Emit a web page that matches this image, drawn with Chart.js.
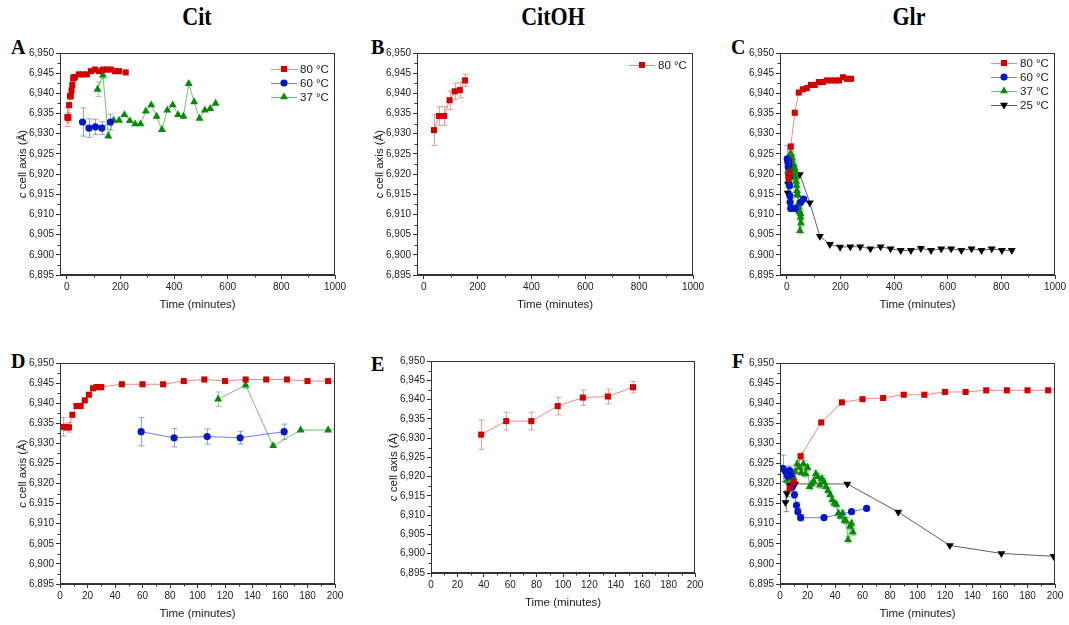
<!DOCTYPE html>
<html>
<head>
<meta charset="utf-8">
<script src="https://cdn.jsdelivr.net/npm/chart.js@4.4.1/dist/chart.umd.min.js"></script>
<style>
  body { margin: 0; background: #fff; }
  #page { position: relative; width: 1069px; height: 625px; overflow: hidden; background: #fff; }
  .head { position: absolute; top: 4px; width: 120px; margin-left: -60px; text-align: center;
          font: bold 25px "Liberation Serif", "DejaVu Serif", serif; line-height: 25px; transform: scaleX(0.88); }
  .let { position: absolute; font: bold 20px "Liberation Serif", "DejaVu Serif", serif; line-height: 20px; }
  canvas { position: absolute; }
</style>
</head>
<body>
<div id="page">
  <div class="head" style="left:197px">Cit</div>
  <div class="head" style="left:553px">CitOH</div>
  <div class="head" style="left:909px">Glr</div>
  <div class="let" style="left:11px;top:37px">A</div>
  <div class="let" style="left:371px;top:37px">B</div>
  <div class="let" style="left:731px;top:37px">C</div>
  <div class="let" style="left:11px;top:351px">D</div>
  <div class="let" style="left:371px;top:354px">E</div>
  <div class="let" style="left:732px;top:351px">F</div>
</div>
<script>
// ---- data (time in minutes, c axis in Å, error = ± half bar) ----
// Cit
const citT80 = [2.5, 4.5, 6.5, 9, 12, 13.5, 15, 18, 21, 24, 26.5, 28.5, 30, 45, 60, 75, 90, 105, 120, 135, 150, 165, 180, 195, 220];
const citC80 = [6.9341, 6.9340, 6.9340, 6.9371, 6.9393, 6.9393, 6.9393, 6.9407, 6.9421, 6.9437, 6.9440, 6.9440, 6.9440,
                6.9447, 6.9447, 6.9447, 6.9455, 6.9459, 6.9455, 6.9459, 6.9459, 6.9459, 6.9455, 6.9455, 6.9452];
const citE80 = [0.0023, 0.0008, 0.0012, 0.0004, 0.0004, 0.0003, 0.0003, 0.0003, 0.0003, 0.0003, 0.0003, 0.0003, 0.0003,
                0.0003, 0.0003, 0.0003, 0.0003, 0.0003, 0.0003, 0.0003, 0.0003, 0.0003, 0.0003, 0.0003, 0.0003];
const citT60 = [59, 83, 107, 131, 163];
const citC60 = [6.9329, 6.9314, 6.9317, 6.9314, 6.9329];
const citE60 = [0.0035, 0.0023, 0.0019, 0.0016, 0.0019];
const citT37 = [115, 135, 155, 175, 195, 215, 235, 255, 275, 295, 315, 335, 355, 375, 395, 415, 435, 455, 475, 495, 515, 535, 555];
const citC37 = [6.9410, 6.9445, 6.9294, 6.9333, 6.9333, 6.9347, 6.9332, 6.9324, 6.9324, 6.9356, 6.9371, 6.9343,
                6.9310, 6.9358, 6.9371, 6.9347, 6.9343, 6.9424, 6.9379, 6.9338, 6.9358, 6.9362, 6.9375];
const citE37 = [0.0018, 0.0008, 0.0005, 0.0005, 0.0005, 0.0005, 0.0005, 0.0005, 0.0005, 0.0005, 0.0005, 0.0005,
                0.0005, 0.0005, 0.0005, 0.0005, 0.0005, 0.0005, 0.0005, 0.0005, 0.0005, 0.0005, 0.0005];
// CitOH
const ohT80 = [38, 57, 76, 96, 115, 134, 153];
const ohC80 = [6.9309, 6.9344, 6.9344, 6.9383, 6.9405, 6.9408, 6.9432];
const ohE80 = [0.0038, 0.0023, 0.0023, 0.0023, 0.0020, 0.0019, 0.0015];
// Glr
const glrT80 = [7, 10, 15, 30, 45, 60, 75, 90, 105, 120, 135, 150, 165, 180, 195, 210, 225, 240];
const glrC80 = [6.9188, 6.9204, 6.9268, 6.9352, 6.9402, 6.9410, 6.9413, 6.9421, 6.9421, 6.9428, 6.9428, 6.9432,
                6.9432, 6.9432, 6.9432, 6.9440, 6.9436, 6.9436];
const glrE80 = [0.0006, 0.0006, 0.0008, 0.0004, 0.0003, 0.0003, 0.0003, 0.0003, 0.0003, 0.0003, 0.0003, 0.0003,
                0.0003, 0.0003, 0.0003, 0.0004, 0.0004, 0.0004];
const glrT60 = [2, 4, 5.5, 7, 8, 9, 10.5, 12, 13, 15, 32, 52, 63];
const glrC60 = [6.9238, 6.9230, 6.9218, 6.9232, 6.9222, 6.9192, 6.9172, 6.9146, 6.9130, 6.9115, 6.9115, 6.9130, 6.9138];
const glrE60 = [0.0033, 0.0012, 0.0012, 0.0012, 0.0012, 0.0010, 0.0008, 0.0008, 0.0008, 0.0008, 0.0005, 0.0005, 0.0005];
const glrT37 = [5, 6.5, 8, 9.5, 11, 12.5, 14, 15.5, 17, 18.5, 20, 21.5, 23, 24.5, 26, 27.5, 29, 30.5, 32, 33.5,
                35, 36.5, 38, 39.5, 41, 42.5, 44, 45.5, 47, 48, 49.5, 51, 52, 53];
const glrC37 = [6.9208, 6.9215, 6.9224, 6.9217, 6.9230, 6.9249, 6.9240, 6.9227, 6.9249, 6.9224, 6.9240, 6.9192,
                6.9199, 6.9206, 6.9224, 6.9217, 6.9196, 6.9212, 6.9204, 6.9192, 6.9182, 6.9172, 6.9159, 6.9151,
                6.9148, 6.9126, 6.9118, 6.9126, 6.9108, 6.9107, 6.9060, 6.9093, 6.9101, 6.9079];
const glrE37 = glrT37.map(() => 0.0008);
const glrT25 = [4, 5, 7, 9, 11, 49, 86, 123.5, 161, 199, 237, 274, 312, 350, 387, 425, 463, 500, 538, 576,
                613, 651, 689, 726, 764, 802, 839];
const glrC25 = [6.9153, 6.9175, 6.9195, 6.9212, 6.9199, 6.9199, 6.9129, 6.9046, 6.9026, 6.9019, 6.9020, 6.9020,
                6.9015, 6.9020, 6.9015, 6.9011, 6.9011, 6.9016, 6.9011, 6.9015, 6.9015, 6.9011, 6.9015, 6.9011,
                6.9015, 6.9011, 6.9011];
const glrE25 = [0.0023, 0.0008, 0.0008, 0.0008, 0.0006, 0.0004, 0.0004, 0.0004, 0.0004, 0.0004, 0.0004, 0.0004,
                0.0004, 0.0004, 0.0004, 0.0004, 0.0004, 0.0004, 0.0004, 0.0004, 0.0004, 0.0004, 0.0004, 0.0004,
                0.0004, 0.0004, 0.0004];

// tick values
const wideTicks = [0, 200, 400, 600, 800, 1000];
const zoomTicks = [0, 20, 40, 60, 80, 100, 120, 140, 160, 180, 200];
const cMin = 6.895, cMax = 6.950, cStep = 0.005;

Chart.defaults.font.family = '"Liberation Sans", Arial, sans-serif';
Chart.defaults.color = '#222';

function pts(t, c) { return t.map((v, i) => ({ x: v, y: c[i] })); }

function s80(t, c, e, r) {
  return { label: '80 °C', data: pts(t, c), errs: e, errColor: 'rgba(225,80,80,0.55)',
    borderColor: 'rgba(225,40,40,0.55)', backgroundColor: '#d00000', pointBackgroundColor: '#d00000',
    pointStyle: 'rect', pointRadius: r, rotation: 0 };
}
function s60(t, c, e) {
  return { label: '60 °C', data: pts(t, c), errs: e, errColor: 'rgba(60,90,230,0.55)',
    borderColor: 'rgba(20,40,220,0.6)', backgroundColor: '#0018c8', pointBackgroundColor: '#0018c8',
    pointStyle: 'circle', pointRadius: 3.6, rotation: 0 };
}
function s37(t, c, e) {
  return { label: '37 °C', data: pts(t, c), errs: e, errColor: 'rgba(80,170,80,0.55)',
    borderColor: 'rgba(20,150,20,0.6)', backgroundColor: '#0a8a0a', pointBackgroundColor: '#0a8a0a',
    pointStyle: 'triangle', pointRadius: 4.6, rotation: 0 };
}
function s25(t, c, e) {
  return { label: '25 °C', data: pts(t, c), errs: e, errColor: 'rgba(60,60,60,0.6)',
    borderColor: 'rgba(40,40,40,0.75)', backgroundColor: '#000', pointBackgroundColor: '#000',
    pointStyle: 'triangle', pointRadius: 4.6, rotation: 180 };
}

// error bars, box frame, minor ticks, y title and inside legend
const decor = {
  id: 'decor',
  beforeDatasetsDraw(chart) {
    const { ctx, chartArea: a, scales: { x, y } } = chart;
    ctx.save();
    ctx.beginPath(); ctx.rect(a.left, a.top, a.width, a.height); ctx.clip();
    ctx.lineWidth = 1;
    chart.data.datasets.forEach(ds => {
      ctx.strokeStyle = ds.errColor;
      ds.data.forEach((p, i) => {
        const e = ds.errs[i];
        const px = Math.round(x.getPixelForValue(p.x)) + 0.5;
        const y1 = y.getPixelForValue(p.y + e), y2 = y.getPixelForValue(p.y - e);
        if (y2 - y1 < 5) return;
        ctx.beginPath();
        ctx.moveTo(px, y1); ctx.lineTo(px, y2);
        ctx.moveTo(px - 3, y1); ctx.lineTo(px + 3, y1);
        ctx.moveTo(px - 3, y2); ctx.lineTo(px + 3, y2);
        ctx.stroke();
      });
    });
    ctx.restore();
  },
  afterDraw(chart, args, opts) {
    const { ctx, chartArea: a, scales: { x, y } } = chart;
    ctx.save();
    ctx.strokeStyle = '#333';
    ctx.lineWidth = 1;
    ctx.strokeRect(Math.round(a.left) + 0.5, Math.round(a.top) + 0.5, Math.round(a.width) - 1, Math.round(a.height) - 1);
    // minor ticks
    ctx.beginPath();
    for (let v = cMin + cStep / 2; v < cMax; v += cStep) {
      const py = Math.round(y.getPixelForValue(v)) + 0.5;
      ctx.moveTo(a.left - 2.5, py); ctx.lineTo(a.left, py);
    }
    const xs = opts.xMinor;
    for (let v = xs; v < x.max; v += 2 * xs) {
      const px = Math.round(x.getPixelForValue(v)) + 0.5;
      ctx.moveTo(px, a.bottom); ctx.lineTo(px, a.bottom + 2.5);
    }
    ctx.stroke();
    // y title with italic c
    if (opts.yTitle) {
      ctx.save();
      ctx.translate(a.left - 37, (a.top + a.bottom) / 2);
      ctx.rotate(-Math.PI / 2);
      ctx.fillStyle = '#222';
      ctx.textBaseline = 'middle';
      ctx.font = 'italic 11.5px "Liberation Sans"';
      const w1 = ctx.measureText('c').width;
      ctx.font = '11.5px "Liberation Sans"';
      const w2 = ctx.measureText(' cell axis (Å)').width;
      const sx = -(w1 + w2) / 2;
      ctx.font = 'italic 11.5px "Liberation Sans"';
      ctx.fillText('c', sx, 0);
      ctx.font = '11.5px "Liberation Sans"';
      ctx.fillText(' cell axis (Å)', sx + w1, 0);
      ctx.restore();
    }
    // legend inside top right
    if (opts.legendTop) {
      ctx.font = '11.5px "Liberation Sans"';
      ctx.textBaseline = 'middle';
      chart.data.datasets.forEach((ds, i) => {
        const ly = a.top + opts.legendTop + i * 14;
        const lx = a.right - 64;
        ctx.strokeStyle = ds.borderColor;
        ctx.beginPath(); ctx.moveTo(lx, ly + 0.5); ctx.lineTo(lx + 26, ly + 0.5); ctx.stroke();
        ctx.fillStyle = ds.pointBackgroundColor;
        Chart.helpers.drawPoint(ctx, { pointStyle: ds.pointStyle, radius: ds.pointRadius, rotation: ds.rotation, borderWidth: 0 }, lx + 13, ly);
        ctx.fillStyle = '#222';
        ctx.fillText(ds.label, a.right - 35, ly + 1);
      });
    }
    ctx.restore();
  }
};

function makePanel(box, datasets, xCfg, extra) {
  const c = document.createElement('canvas');
  const w = box.R - box.L + 76, h = box.B - box.T + 60;
  c.width = w; c.height = h;
  c.style.left = (box.L - 60) + 'px';
  c.style.top = (box.T - 15) + 'px';
  c.style.width = w + 'px'; c.style.height = h + 'px';
  document.getElementById('page').appendChild(c);
  datasets.forEach(d => { d.showLine = true; d.borderWidth = 1; d.pointBorderWidth = 0; d.pointHoverRadius = d.pointRadius; });
  new Chart(c, {
    type: 'scatter',
    data: { datasets },
    plugins: [decor],
    options: {
      responsive: false,
      animation: false,
      events: [],
      layout: { padding: { top: 15, right: 16, left: 0, bottom: 7 } },
      plugins: { legend: { display: false }, tooltip: { enabled: false }, decor: extra },
      scales: {
        x: {
          type: 'linear', min: xCfg.min, max: xCfg.max,
          afterBuildTicks(s) { s.ticks = xCfg.ticks.map(v => ({ value: v })); },
          afterFit(s) { s.height = 38; },
          border: { display: true, color: '#333' },
          grid: { display: true, drawOnChartArea: false, drawTicks: true, tickLength: 4, color: '#333' },
          ticks: { padding: 2, maxRotation: 0, autoSkip: false, font: { size: 10 }, color: '#222',
                   callback: v => String(v) },
          title: { display: true, text: 'Time (minutes)', font: { size: 11.5 }, color: '#222', padding: { top: 0, bottom: 1 } }
        },
        y: {
          type: 'linear', min: cMin, max: cMax,
          afterFit(s) { s.width = 60; },
          border: { display: true, color: '#333' },
          grid: { display: true, drawOnChartArea: false, drawTicks: true, tickLength: 4, color: '#333' },
          ticks: { stepSize: cStep, padding: 2, font: { size: 10 }, color: '#222',
                   callback: v => v.toFixed(3).replace('.', ',') }
        }
      }
    }
  });
}

const wide = { min: -25, max: 1000, ticks: wideTicks };
const zoom = { min: 0, max: 200, ticks: zoomTicks };

makePanel({ L: 60, T: 53, R: 335, B: 275 },
  [s80(citT80, citC80, citE80, 4.3), s60(citT60, citC60, citE60), s37(citT37, citC37, citE37)],
  wide, { yTitle: true, legendTop: 16, xMinor: 100 });
makePanel({ L: 417, T: 53, R: 693, B: 275 },
  [s80(ohT80, ohC80, ohE80, 4.3)],
  wide, { yTitle: true, legendTop: 12, xMinor: 100 });
makePanel({ L: 780, T: 53, R: 1055, B: 275 },
  [s80(glrT80, glrC80, glrE80, 4.3), s60(glrT60, glrC60, glrE60), s37(glrT37, glrC37, glrE37), s25(glrT25, glrC25, glrE25)],
  wide, { yTitle: false, legendTop: 10, xMinor: 100 });
makePanel({ L: 60, T: 363, R: 335, B: 584 },
  [s80(citT80, citC80, citE80, 4.3), s60(citT60, citC60, citE60), s37(citT37, citC37, citE37)],
  zoom, { yTitle: true, legendTop: 0, xMinor: 10 });
makePanel({ L: 431, T: 361, R: 695, B: 573 },
  [s80(ohT80, ohC80, ohE80, 4.3)],
  zoom, { yTitle: true, legendTop: 0, xMinor: 10 });
makePanel({ L: 780, T: 363, R: 1055, B: 584 },
  [s80(glrT80, glrC80, glrE80, 4.3), s60(glrT60, glrC60, glrE60), s37(glrT37, glrC37, glrE37), s25(glrT25, glrC25, glrE25)],
  zoom, { yTitle: false, legendTop: 0, xMinor: 10 });
</script>
</body>
</html>
